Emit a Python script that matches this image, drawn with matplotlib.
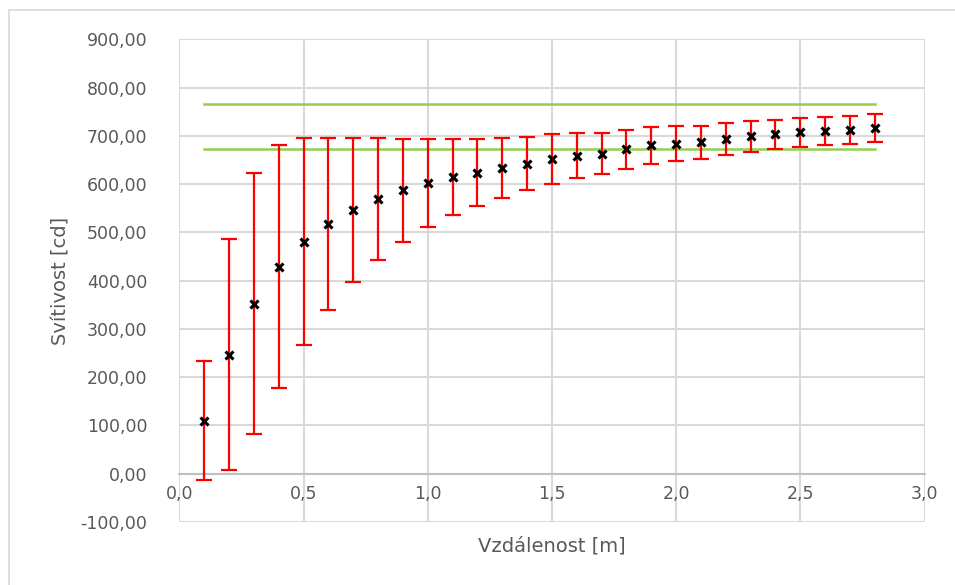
import numpy as np
import matplotlib.pyplot as plt
from matplotlib.lines import Line2D
from matplotlib.ticker import FuncFormatter

# Vzdálenost [m]
vzdalenost = [0.1, 0.2, 0.3, 0.4, 0.5, 0.6, 0.7, 0.8, 0.9, 1.0,
              1.1, 1.2, 1.3, 1.4, 1.5, 1.6, 1.7, 1.8, 1.9, 2.0,
              2.1, 2.2, 2.3, 2.4, 2.5, 2.6, 2.7, 2.8]
# Svítivost [cd]
svitivost = [110, 247, 352, 429, 481, 518, 546, 569, 587, 602,
             614, 624, 634, 642, 652, 659, 663, 672, 680, 684,
             687, 694, 699, 703, 707, 709, 712, 716]
# odchylka (chybové úsečky)
odchylka = [124, 240, 270, 251, 214, 178, 149, 126, 106, 91,
            79, 69, 62, 55, 51, 46, 43, 40, 38, 36,
            34, 33, 32, 30, 30, 29, 29, 29]

# meze (zelené čáry)
mez_horni = 766
mez_dolni = 672

seda = "#595959"

fig = plt.figure(figsize=(9.55, 5.85), dpi=100)
ax = fig.add_axes([179.3 / 955, 1 - 522 / 585, (924.5 - 179.3) / 955, (522 - 39.3) / 585])

# rámeček grafu (jen horní a levá hrana je vidět)
fig.add_artist(Line2D([9 / 955, 1], [1 - 10 / 585, 1 - 10 / 585], color="#d9d9d9", lw=1.2))
fig.add_artist(Line2D([9 / 955, 9 / 955], [0, 1 - 10 / 585], color="#d9d9d9", lw=1.2))

ax.errorbar(vzdalenost, svitivost, yerr=odchylka, fmt="none", ecolor="#ff0000",
            elinewidth=1.6, capsize=5.5, capthick=1.6, zorder=3)
ax.plot(vzdalenost, svitivost, "x", color="black", ms=6, mew=2.2, zorder=4)
ax.plot([vzdalenost[0], vzdalenost[-1]], [mez_horni, mez_horni], color="#92d050", lw=1.8, zorder=2)
ax.plot([vzdalenost[0], vzdalenost[-1]], [mez_dolni, mez_dolni], color="#92d050", lw=1.8, zorder=2)

ax.set_xlim(0, 3.0)
ax.set_ylim(-100, 900)
ax.set_xticks(np.arange(0, 3.01, 0.5))
ax.set_yticks(np.arange(-100, 901, 100))
ax.xaxis.set_major_formatter(FuncFormatter(lambda v, p: f"{v:.1f}".replace(".", ",")))
ax.yaxis.set_major_formatter(FuncFormatter(lambda v, p: f"{v:.2f}".replace(".", ",")))

ax.grid(True, color="#d9d9d9", lw=1.5, zorder=0)
ax.set_axisbelow(True)
for s in ["top", "right", "left"]:
    ax.spines[s].set_visible(False)
ax.spines["bottom"].set_position(("data", 0))
ax.spines["bottom"].set_color("#bfbfbf")
ax.spines["bottom"].set_linewidth(1.5)
ax.tick_params(length=0, labelsize=12.5, labelcolor=seda)
ax.tick_params(axis="y", pad=23)
ax.tick_params(axis="x", pad=8)

ax.set_xlabel("Vzdálenost [m]", fontsize=14, color=seda, va="center")
ax.set_ylabel("Svítivost [cd]", fontsize=14, color=seda, va="center")
ax.xaxis.set_label_coords(0.5, -(546 - 522) / (522 - 39.3))
ax.yaxis.set_label_coords(-(179.3 - 61) / (924.5 - 179.3), 0.5)

fig.savefig("out.png", dpi=100)
